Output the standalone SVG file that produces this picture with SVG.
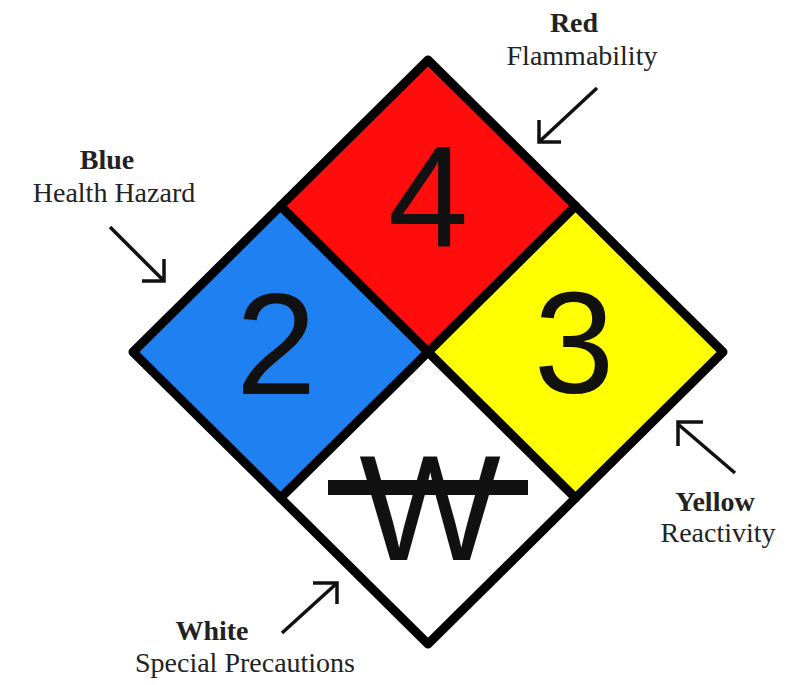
<svg xmlns="http://www.w3.org/2000/svg" width="798" height="685" viewBox="0 0 798 685">
<style>
.num{font-family:"Liberation Sans",Arial,sans-serif;font-size:145px;fill:#111;text-anchor:middle}
.lbl{font-family:"Liberation Serif","Times New Roman",serif;font-size:28px;fill:#222;text-anchor:middle}
.b{font-weight:bold}
.arr{fill:none;stroke:#111;stroke-width:3.5;stroke-linecap:butt;stroke-linejoin:miter}
.edge{fill:none;stroke:#000;stroke-width:9;stroke-linejoin:round;stroke-linecap:round}
</style>
<rect width="798" height="685" fill="#fff"/>
<g id="red">
<polygon points="428,60 575.5,206 428,352 280.5,206" fill="#ff0d0d"/>
<text class="num" x="428" y="247">4</text>
</g>
<g id="blue">
<polygon points="280.5,206 428,352 280.5,498 133,352" fill="#1f80f2"/>
<text class="num" x="276" y="394">2</text>
</g>
<g id="yellow">
<polygon points="575.5,206 723,352 575.5,498 428,352" fill="#ffff00"/>
<text class="num" x="574" y="393">3</text>
</g>
<g id="white">
<polygon points="428,352 575.5,498 428,644 280.5,498" fill="#fff"/>
<text class="num" x="430" y="560" style="font-size:150px">W</text>
<rect x="328" y="480" width="200" height="15" fill="#111"/>
</g>
<g id="borders">
<polygon class="edge" points="428,60 723,352 428,644 133,352"/>
<line class="edge" x1="280.5" y1="206" x2="575.5" y2="498"/>
<line class="edge" x1="575.5" y1="206" x2="280.5" y2="498"/>
</g>
<g id="labels">
<text class="lbl b" x="574" y="32">Red</text>
<text class="lbl" x="582" y="65">Flammability</text>
<text class="lbl b" x="107" y="169">Blue</text>
<text class="lbl" x="114" y="202">Health Hazard</text>
<text class="lbl b" x="715" y="511">Yellow</text>
<text class="lbl" x="718" y="542">Reactivity</text>
<text class="lbl b" x="212" y="640">White</text>
<text class="lbl" x="245" y="672">Special Precautions</text>
</g>
<g id="connectors">
<line class="arr" x1="597" y1="88" x2="540" y2="141"/>
<polyline class="arr" points="539,120 539,142 561,142"/>
<line class="arr" x1="110" y1="227" x2="163" y2="280"/>
<polyline class="arr" points="164,259 164,281 142,281"/>
<line class="arr" x1="735" y1="473" x2="679" y2="425"/>
<polyline class="arr" points="678,446 678,422 703,422"/>
<line class="arr" x1="282" y1="633" x2="336" y2="584"/>
<polyline class="arr" points="313,583 337,583 337,604"/>
</g>
</svg>
